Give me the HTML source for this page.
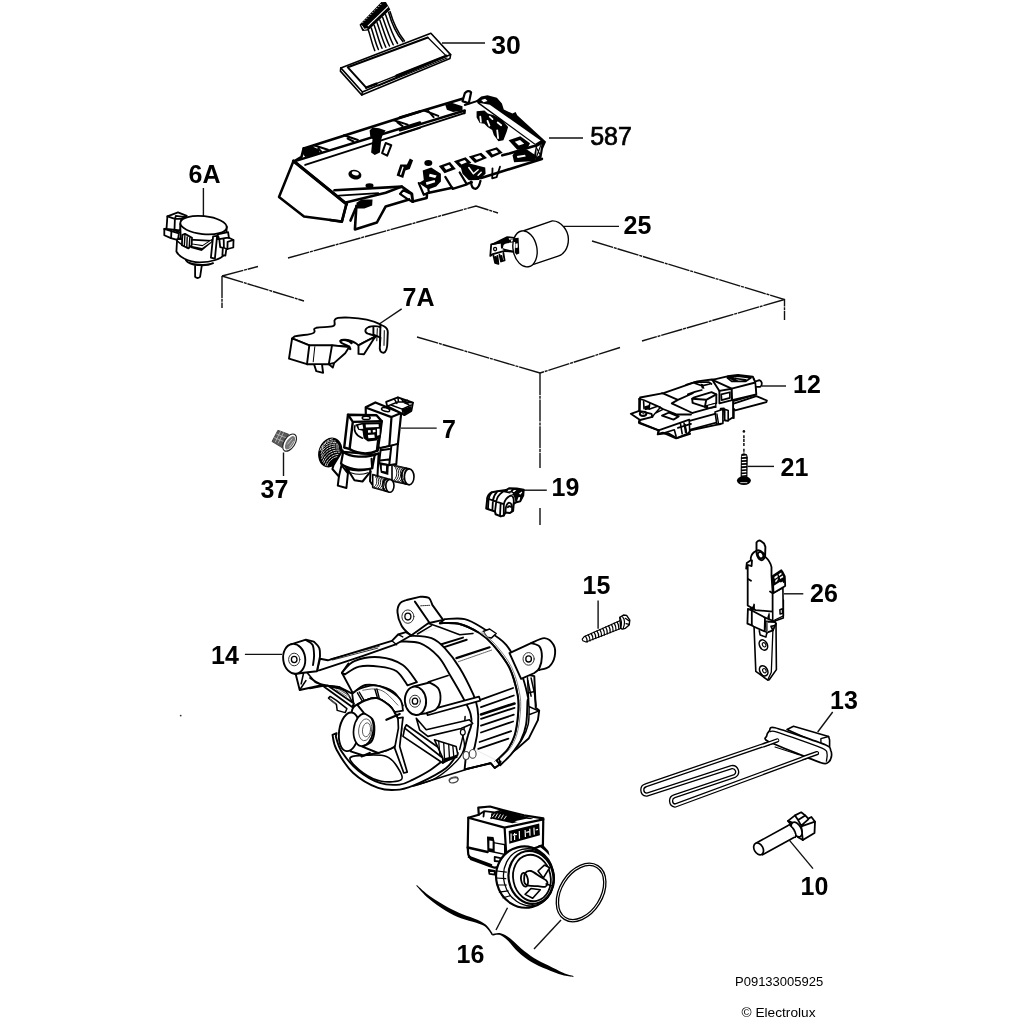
<!DOCTYPE html>
<html>
<head>
<meta charset="utf-8">
<title>Exploded view</title>
<style>
html,body{margin:0;padding:0;background:#fff;}
body{width:1024px;height:1024px;overflow:hidden;font-family:"Liberation Sans",sans-serif;}
svg{display:block;position:absolute;left:0;top:0;}
svg text{font-family:"Liberation Sans",sans-serif;fill:#000;}
.lb{font-size:25px;font-weight:bold;}
.lr{font-size:25px;font-weight:normal;stroke:#000;stroke-width:0.7px;}
.ft{font-size:13px;}
.ld{stroke:#111;stroke-width:1.4;fill:none;}
.ds{stroke:#111;stroke-width:1.4;fill:none;stroke-dasharray:22 0.8 3 0.8;}
.p{stroke:#000;stroke-width:1.6;fill:#fff;stroke-linejoin:round;stroke-linecap:round;}
.n{stroke:#000;stroke-width:1.6;fill:none;stroke-linejoin:round;stroke-linecap:round;}
.t{stroke:#000;stroke-width:1.1;fill:none;stroke-linejoin:round;stroke-linecap:round;}
.k{stroke:#000;stroke-width:2.2;fill:none;stroke-linejoin:round;stroke-linecap:round;}
.b{fill:#000;stroke:none;}
#p6a .p{stroke-width:1.8;}
</style>
</head>
<body>
<svg width="1024" height="1024" viewBox="0 0 1024 1024">
<rect x="0" y="0" width="1024" height="1024" fill="#fff"/>

<!-- ===== dashed assembly box ===== -->
<g id="box" class="ds">
<path d="M222,276 L258,266.5 M288,258 L476,206 L498,213"/>
<path d="M592,241 L784.500,299.500 L784.500,320"/>
<path d="M784.500,299.500 L642,341 M620,347.500 L540,373"/>
<path d="M222,276 L304,301 M417,337 L540,373"/>
<path d="M222,276 L222,308"/>
<path d="M540,373 L540,468 M540,508 L540,525"/>
</g>

<!-- ===== leaders ===== -->
<g id="leaders" class="ld">
<path d="M442,43 L485,43"/>
<path d="M549,138 L583,138"/>
<path d="M564,226.400 L619,226.400"/>
<path d="M203.400,188 L203.400,216"/>
<path d="M401.700,308.800 L380,323.500"/>
<path d="M401,428.100 L436.700,428.100"/>
<path d="M283.500,452.500 L283.500,476"/>
<path d="M523,490.200 L546.800,490.200"/>
<path d="M762,386 L786,386"/>
<path d="M747.600,466.400 L774,466.400"/>
<path d="M784,593.800 L803.300,593.800"/>
<path d="M598.100,600.600 L598.100,628.700"/>
<path d="M244.900,654.400 L282,654.400"/>
<path d="M832.700,712 L817.700,732"/>
<path d="M789.500,840.400 L813,868.600"/>
<path d="M507.500,907.700 L496,930"/>
<path d="M561,920 L534,949"/>
</g>


<!-- ===== part 10 sensor ===== -->
<g id="p10">
<path class="p" style="stroke-width:1.8" d="M788.0,820.9L795.0,815.4L801.2,812.3L805.2,815.4L808.3,818.6L811.4,817.0L815.0,821.7L814.5,832.9L802.8,840.1L798.1,837.3L793.4,827.9Z"/>
<path class="n" style="stroke-width:1.8" d="M795.0,815.4L798.1,820.1L805.2,815.4M798.1,820.1L801.2,825.6L808.3,819.3M801.2,825.6L802.8,840.1M802.0,826.1L815.0,821.7M788.0,820.9L793.4,823.2"/>
<ellipse class="p" style="stroke-width:1.8" cx="796.6" cy="829.5" rx="4.6" ry="8" transform="rotate(-28 796.6 829.5)"/>
<path class="p" style="stroke-width:1.7" d="M756.7,842.8L789.5,824.8L795.3,836.8L762.5,854.8Z"/>
<path d="M789.5,825.4L795.0,836.4" stroke="#fff" stroke-width="2.2" fill="none"/>
<ellipse class="p" style="stroke-width:1.7" cx="758.6" cy="848.9" rx="4.4" ry="6.4" transform="rotate(-28 758.6 848.9)"/>
<path class="n" style="stroke-width:1.6" d="M789.5,824.8C790.2,825.5 792.4,827.2 793.4,828.7C794.5,830.3 795.5,832.8 795.8,834.2C796.1,835.6 795.4,836.8 795.3,837.3"/>
</g>

<!-- ===== part 12 door lock ===== -->
<g id="p12">
<path class="p" style="stroke-width:1.8" d="M729.9,404.9L756.3,396.1L766.9,400.5L766.4,402.1L735.2,410.4Z"/>
<path class="p" style="stroke-width:1.6" d="M728.2,406.7L733.9,409.3L733.9,418.3L729.1,416.2Z"/>
<path class="p" style="stroke-width:1.9" d="M640.1,397.5L663.5,393.1L697.2,381.4L711.9,379.5L726.5,381.4L735.3,376.0L752.9,377.1L755.1,382.1L755.8,394.6L733.1,401.2L733.1,409.9L733.1,417.3L728.3,420.2L725.1,420.5L723.9,408.5L720.7,408.8L720.7,424.0L716.3,424.9L690.6,430.2L688.4,433.4L676.7,438.1L667.9,433.1L657.7,434.3L658.9,430.4L638.9,422.4L639.4,419.9Z"/>
<path class="p" style="stroke-width:1.9" d="M630.8,413.8L639.2,410.8L651.5,413.8L652.4,416.9L640.1,420.0Z"/>
<ellipse cx="643.1" cy="413.8" rx="3.3" ry="2.1" fill="#fff" stroke="#000" stroke-width="2"/>
<ellipse cx="643.4" cy="413.8" rx="1.2" ry="0.8" fill="#333" stroke="none"/>
<path class="n" style="stroke-width:1.9" d="M640.1,420.0L639.2,423.1L658.5,430.3L658.1,433.8M639.2,398.9L639.2,410.3"/>
<path class="n" style="stroke-width:1.8" d="M639.2,398.9L643.6,400.0L660.3,407.4L662.9,409.0L677.0,414.5L691.0,414.5M662.0,393.2L664.7,394.1L677.9,399.9L671.7,403.4L692.4,413.0M677.9,399.9L692.8,393.2"/>
<path class="n" style="stroke-width:1.6" d="M643.6,401.5L644.0,408.6M649.7,403.9L649.0,409.2L656.8,406.5"/>
<path class="b" d="M644.0,406.4L649.0,405.0L649.6,409.2L644.9,410.3Z"/>
<path class="n" style="stroke-width:1.9" d="M662.0,415.6L669.1,412.5L678.7,416.5L673.5,419.6Z"/>
<path class="n" style="stroke-width:1.5" d="M652.4,416.9L655.0,413.4L662.9,409.4M660.3,407.4L655.0,413.4"/>
<path class="n" style="stroke-width:1.8" d="M658.5,430.3L689.3,419.7M658.1,433.8L662.9,432.7L676.1,438.4L690.2,433.8M677.9,427.9L691.0,423.9"/>
<path class="n" style="stroke-width:1.6" d="M680.5,423.9L682.2,433.8M684.0,423.1L686.6,432.9M689.3,419.7L689.7,432.0M664.7,432.7L674.3,429.7L676.1,436.2"/>
<path class="b" d="M683.6,424.4L685.8,423.8L687.1,432.6L684.9,433.2Z"/>
<path class="n" style="stroke-width:1.8" d="M692.6,412.8L715.0,406.7M689.5,420.9L715.9,413.7M690.4,429.5L722.9,420.9"/>
<path class="p" style="stroke-width:1.6" d="M715.0,411.9L716.8,424.2L722.9,423.4L722.9,409.3Z"/>
<path class="n" style="stroke-width:1.4" d="M716.9,413.9L718.5,423.5"/>
<path class="p" style="stroke-width:1.6" d="M724.7,409.3L724.7,420.0L728.2,420.9L728.2,410.4Z"/>
<path class="p" style="stroke-width:1.9" d="M694.3,397.4L711.5,392.2L716.3,394.4L716.3,403.3L704.9,406.8L692.6,402.8L692.2,398.8Z"/>
<path class="n" style="stroke-width:1.9" d="M692.2,398.8L706.2,399.8L716.3,394.4M706.2,399.8L704.9,406.8"/>
<path class="b" d="M704.9,405.4L716.3,402.5L716.6,407.7L705.8,409.3Z"/>
<path fill="#fff" stroke="none" d="M708.0,405.8L715.0,404.0L715.2,405.6L708.4,407.4Z"/>
<path class="n" style="stroke-width:1.7" d="M686.0,384.7L694.8,382.1L708.9,382.1L711.5,384.0M694.8,383.1L701.8,385.8L709.7,384.0M687.8,394.4L694.8,391.9L701.8,390.0"/>
<path class="b" d="M700.5,383.6L703.1,384.3L704.5,388.7L701.8,388.4Z"/>
<path class="p" style="stroke-width:1.9" d="M719.4,390.9L731.7,388.7L732.1,400.1L719.4,403.3Z"/>
<path class="n" style="stroke-width:1.7" d="M721.2,394.4L729.9,392.2L729.9,397.9L721.6,400.1Z"/>
<path class="p" style="stroke-width:1.9" d="M712.4,379.9L727.3,376.3L737.9,375.0L752.8,376.8L755.4,382.5L756.3,394.4L732.1,400.1L731.7,388.7Z"/>
<path class="n" style="stroke-width:1.9" d="M731.7,388.7L755.4,382.5M712.4,379.9L719.4,391.0"/>
<path class="n" style="stroke-width:1.7" d="M727.3,377.8L737.9,376.1L751.0,377.8L745.8,381.4L731.7,381.4ZM735.2,378.5L745.8,379.9"/>
<path class="b" d="M726.0,376.8L731.7,375.9L738.7,381.2L735.2,382.1Z"/>
<path class="p" style="stroke-width:1.8" d="M756.3,381.2C756.9,381.0 758.9,380.0 759.8,380.3C760.7,380.6 761.6,381.9 761.8,382.9C761.9,384.0 761.5,385.8 760.7,386.5C759.9,387.1 757.4,386.8 756.8,386.9"/>
</g>

<!-- ===== part 13 heater ===== -->
<g id="p13">
<path class="p" style="stroke-width:1.6" d="M787.0,729.5L793.5,726.2L828.6,736.5L829.6,740.0L829.6,747.0L820.9,744.8Z"/>
<path class="n" style="stroke-width:1.4" d="M828.6,736.5L820.9,738.7L820.9,744.8"/>
<path d="M780.4,739.3 L645.9,785.3 A4.8,4.8 0 0 0 646.5,794.7 L731.6,767.1 A4.8,4.8 0 0 1 734.7,776 L674.4,796.3 A4.8,4.8 0 0 0 675.1,805.6 L818.7,752.5" fill="none" stroke="#000" stroke-width="4.3" stroke-linecap="round" stroke-linejoin="round"/>
<path d="M780.4,739.3 L645.9,785.3 A4.8,4.8 0 0 0 646.5,794.7 L731.6,767.1 A4.8,4.8 0 0 1 734.7,776 L674.4,796.3 A4.8,4.8 0 0 0 675.1,805.6 L818.7,752.5" fill="none" stroke="#fff" stroke-width="1.7" stroke-linecap="round" stroke-linejoin="round"/>
<path class="p" style="stroke-width:1.7" d="M766.6,736.1C766.8,734.8 768.5,731.6 769.5,730.6C770.5,729.6 768.4,726.1 775.0,727.8C781.5,729.4 818.8,742.2 825.3,744.8C831.8,747.4 830.0,748.9 830.7,750.3C831.5,751.7 831.6,755.5 831.4,756.8C831.1,758.2 829.8,761.2 828.6,761.9C827.3,762.6 827.9,765.1 820.9,762.8C813.9,760.4 774.7,744.6 768.4,741.5C762.1,738.4 766.5,737.3 766.6,736.1Z"/>
<path class="n" style="stroke-width:1.3" d="M770.1,731.7C771.1,731.7 770.2,729.9 777.1,732.1C784.1,734.3 815.3,745.2 822.0,748.1C828.6,751.0 826.4,751.8 827.0,753.6C827.6,755.3 826.5,760.2 826.4,761.2"/>
<path d="M777.1,740.4L764.0,745.3" fill="none" stroke="#000" stroke-width="4.3" stroke-linecap="round"/>
<path d="M778.2,740.0L761.8,745.9" fill="none" stroke="#fff" stroke-width="1.7" stroke-linecap="butt"/>
<path d="M817.0,753.1L803.4,757.9" fill="none" stroke="#000" stroke-width="4.3" stroke-linecap="round"/>
<path d="M817.8,752.7L801.2,758.8" fill="none" stroke="#fff" stroke-width="1.7" stroke-linecap="butt"/>
<path class="n" style="stroke-width:1.1" d="M775.0,747.0L799.0,754.7"/>
</g>

<!-- ===== part 14 motor ===== -->
<g id="p14">
<path class="p" style="stroke-width:1.9" d="M522.0,673.7L534.3,676.1L535.7,707.8L539.2,710.6L537.9,720.2L528.9,738.2L516.6,749.1L503.2,758.7L500.2,764.2L494.7,768.0L490.9,763.3L464.6,769.4L467.3,742.0L494.7,701.0Z"/>
<path class="n" style="stroke-width:1.5" d="M527.5,677.8L528.9,706.5L538.4,710.9M528.9,692.8L534.6,691.4M528.9,714.7L537.9,711.4M529.1,706.5C529.0,709.4 529.4,718.8 528.2,724.3C527.0,729.7 524.6,735.0 522.0,739.3C519.4,743.6 514.0,748.4 512.5,750.2"/>
<path class="p" style="stroke-width:1.9" d="M444.8,619.1C448.1,619.1 458.3,617.5 464.7,619.1C471.1,620.6 476.0,623.9 483.0,628.2C489.9,632.5 499.8,637.3 506.2,644.8C512.6,652.3 517.5,664.4 521.1,673.0C524.7,681.6 526.7,691.6 527.8,696.2C528.8,700.9 527.8,696.3 527.5,701.0C527.2,705.7 527.3,717.6 526.1,724.3C525.0,730.9 523.2,735.6 520.7,740.7C518.1,745.7 514.5,750.2 511.1,754.3C507.7,758.4 502.0,763.4 500.2,765.3L496.6,760.4C498.4,758.6 504.6,753.5 507.6,749.4C510.5,745.3 512.7,741.2 514.4,735.8C516.1,730.3 517.2,723.2 517.8,716.6C518.4,710.0 519.2,704.3 517.8,696.2C516.4,688.1 513.7,676.6 509.5,668.0C505.4,659.4 497.9,650.6 492.9,644.8C487.9,639.0 485.2,636.6 479.6,633.2C474.1,629.7 466.4,625.7 459.7,624.0C453.1,622.4 443.1,623.3 439.8,623.2Z"/>
<path class="n" style="stroke-width:0.9;stroke:#777" d="M477.4,634.4C479.7,636.3 485.7,640.2 490.7,646.0C495.7,651.8 503.2,660.6 507.3,669.2C511.5,677.8 514.2,689.3 515.6,697.4C517.0,705.5 516.2,711.2 515.6,717.8C515.0,724.4 513.9,731.5 512.2,737.0C510.5,742.4 508.3,746.5 505.4,750.6C502.4,754.7 496.2,759.8 494.4,761.6"/>
<path class="p" style="stroke-width:1.5" d="M483.0,631.5L489.6,629.0L496.2,633.5L491.3,638.1L487.1,637.3Z"/>
<path class="p" style="stroke-width:1.9" d="M531.1,643.1C533.3,642.3 540.6,637.9 544.4,638.1C548.1,638.4 551.8,641.7 553.5,644.8C555.2,647.8 555.4,652.8 554.7,656.4C554.0,660.0 551.9,664.1 549.4,666.4C546.8,668.6 541.1,669.4 539.4,670.0539.4,670.0L534.4,673.0L521.1,678.8L509.5,653.1L531.1,643.1Z"/>
<path class="p" style="stroke-width:1.9" d="M521.1,678.8L509.5,653.1L531.1,643.1L531.1,643.1C532.5,643.7 537.6,644.2 539.4,646.4C541.2,648.7 541.9,652.8 541.9,656.4C541.9,660.0 540.6,665.3 539.4,668.0C538.2,670.8 535.3,672.2 534.4,673.0Z"/>
<ellipse class="n" style="stroke-width:1;stroke:#333" cx="528.6" cy="658.9" rx="5.6" ry="6.3" transform="rotate(0 528.6 658.9)"/>
<ellipse class="n" style="stroke-width:1.3" cx="528.6" cy="658.9" rx="2.8" ry="3.1" transform="rotate(0 528.6 658.9)"/>
<path class="n" style="stroke-width:1.5" d="M531.1,678.0L534.4,692.9L536.1,706.2M527.8,680.5L531.1,696.2"/>
<path class="p" style="stroke-width:0.1" d="M417.4,634.0L439.8,626.9L459.7,634.5L483.0,631.5L492.9,644.8L509.5,668.0L517.8,696.2L517.8,716.6L514.4,735.8L507.6,749.4L496.6,760.4L474.7,749.4L478.1,724.8L477.5,708.4L473.4,694.7L465.1,676.9L454.2,657.8Z"/>
<path class="n" style="stroke-width:2" d="M439.8,644.8L463.0,637.6M442.8,647.6L466.7,639.8"/>
<path class="n" style="stroke-width:2.2" d="M456.4,658.1L489.6,647.3"/>
<path class="n" style="stroke-width:0.9;stroke:#555;stroke-dasharray:1.2 0.8" d="M458.4,661.7L491.6,650.1"/>
<path class="n" style="stroke-width:1.5" d="M428.2,623.2L439.8,627.2L459.7,634.8L473.0,633.5M431.5,625.7L417.4,634.0"/>
<path class="n" style="stroke-width:1.8" d="M481.0,699.6L513.1,688.0M481.0,707.2L513.8,695.5M481.0,718.8L514.5,707.8M481.0,725.6L513.8,714.7M481.0,732.5L513.1,721.5M479.6,742.0L511.1,731.1M478.3,748.9L508.4,738.6"/>
<path class="n" style="stroke-width:2.6" d="M481.0,714.4L514.5,703.5"/>
<path class="n" style="stroke-width:1.9" d="M439.8,623.2C443.1,623.3 453.1,622.4 459.7,624.0C466.4,625.7 474.1,629.7 479.6,633.2C485.2,636.6 487.9,639.0 492.9,644.8C497.9,650.6 505.4,659.4 509.5,668.0C513.7,676.6 516.4,688.1 517.8,696.2C519.2,704.3 518.4,710.0 517.8,716.6C517.2,723.2 516.1,730.3 514.4,735.8C512.7,741.2 510.5,745.3 507.6,749.4C504.6,753.5 498.4,758.6 496.6,760.4"/>
<path class="n" style="stroke-width:0.9;stroke:#777" d="M481.8,632.6C484.1,634.5 490.1,638.4 495.1,644.2C500.1,650.0 507.6,658.8 511.7,667.4C515.9,676.0 518.6,687.5 520.0,695.6C521.4,703.7 520.6,709.4 520.0,716.0C519.4,722.6 518.3,729.7 516.6,735.2C514.9,740.6 512.7,744.7 509.8,748.8C506.8,752.9 500.6,758.0 498.8,759.8"/>
<path class="n" style="stroke-width:1.6" d="M464.6,769.4L490.9,763.3L494.7,768.0L500.2,764.2L499.1,758.7"/>
<ellipse class="b" style="stroke-width:1.9" cx="500.2" cy="761.8" rx="1.4" ry="1.2" transform="rotate(0 500.2 761.8)"/>
<path class="p" style="stroke-width:1.9" d="M400.0,636.1C401.9,636.1 406.3,635.3 411.6,635.7C416.8,636.0 426.0,636.1 431.5,638.1C437.0,640.2 440.1,643.1 444.8,648.1C449.5,653.1 455.0,660.3 459.7,668.0C464.5,675.8 470.4,688.0 473.4,694.7C476.3,701.4 476.7,703.4 477.5,708.4C478.3,713.4 478.6,718.4 478.1,724.8C477.7,731.2 476.0,741.5 474.7,746.7C473.5,751.9 471.3,754.7 470.6,756.3L463.8,752.2C464.5,749.4 466.6,740.3 467.9,735.8C469.1,731.2 470.8,728.5 471.3,724.8C471.8,721.2 471.6,717.7 470.6,713.9C469.6,710.0 468.6,708.1 465.1,701.6C461.7,695.0 454.3,682.2 449.8,674.7C445.3,667.1 443.1,661.7 438.1,656.4C433.2,651.1 426.4,645.6 419.9,643.1C413.4,640.6 402.6,641.7 399.1,641.5Z"/>
<path class="n" style="stroke-width:1.5" d="M465.1,716.6C464.9,719.3 464.4,727.6 463.5,733.0C462.6,738.5 460.3,746.7 459.7,749.4"/>
<path class="p" style="stroke-width:1.9" d="M410.8,635.7C409.2,634.0 403.8,629.6 401.6,625.7C399.4,621.8 397.7,616.1 397.5,612.4C397.2,608.7 398.4,605.4 400.0,603.3C401.5,601.2 405.5,600.5 406.6,600.0L420.7,596.6C422.1,596.9 427.1,596.6 429.0,598.0C430.9,599.4 431.8,603.8 432.3,604.9L443.1,619.9L431.5,622.5L428.2,623.2Z"/>
<path class="n" style="stroke-width:1.9" d="M414.9,601.6L429.8,623.2"/>
<path class="n" style="stroke-width:0.8;stroke-dasharray:1 1" d="M420.7,605.8L429.8,605.3"/>
<ellipse class="n" style="stroke-width:1;stroke:#333" cx="407.9" cy="616.6" rx="6.0" ry="6.7" transform="rotate(0 407.9 616.6)"/>
<ellipse class="n" style="stroke-width:1.3" cx="407.9" cy="616.6" rx="3.0" ry="3.4" transform="rotate(0 407.9 616.6)"/>
<path class="p" style="stroke-width:1.9" d="M320.0,658.8L327.8,660.3L391.9,640.8L398.1,634.5L405.9,632.2L411.4,635.3L395.0,644.7L363.8,655.6L316.9,671.2Z"/>
<path class="n" style="stroke-width:0.8" d="M330.9,658.8L379.4,646.2M332.5,660.0L377.8,648.1"/>
<path class="n" style="stroke-width:1.4" d="M391.9,640.8L396.6,644.7M398.1,634.5L402.8,636.9"/>
<path fill="#fff" stroke="none" d="M295.8,674.4L299.7,690.0L321.6,685.3L338.8,686.9L351.2,693.1L352.8,693.1L341.9,672.8L312.2,671.2L305.9,671.2Z"/>
<path class="n" style="stroke-width:1.9" d="M295.8,674.4L299.7,690.0L321.6,685.3L338.8,686.9L351.2,693.1M352.8,693.1L341.9,672.8L348.6,663.4"/>
<path class="n" style="stroke-width:1.6" d="M303.6,672.8L301.2,683.8M305.9,671.2L315.3,682.2L324.7,686.1L338.8,686.9M299.7,690.0L305.9,680.6"/>
<path class="p" style="stroke-width:1.9" d="M290.3,644.7L305.9,639.7L313.8,641.6L313.8,641.6C314.7,642.6 318.2,645.3 319.2,647.8C320.3,650.3 319.9,655.0 320.0,656.4L316.9,671.2L303.6,672.8L295.0,674.1Z"/>
<path class="n" style="stroke-width:1.9" d="M305.9,640.0C307.0,640.8 311.1,642.1 312.5,644.7C313.9,647.3 314.0,652.2 314.1,655.6C314.1,659.0 313.2,663.4 313.0,665.0"/>
<ellipse class="p" style="stroke-width:1.9" cx="294.2" cy="658.8" rx="11.0" ry="15.0" transform="rotate(-8 294.2 658.8)"/>
<ellipse class="n" style="stroke-width:1;stroke:#333" cx="294.2" cy="659.5" rx="5.6" ry="6.3" transform="rotate(0 294.2 659.5)"/>
<ellipse class="n" style="stroke-width:1.3" cx="294.2" cy="659.5" rx="2.8" ry="3.1" transform="rotate(0 294.2 659.5)"/>
<path class="p" style="stroke-width:1.9" d="M332.5,734.8C333.1,737.3 333.1,743.4 336.6,749.7C340.1,756.1 346.3,766.6 353.2,773.0C360.1,779.3 370.4,785.1 378.1,787.9C385.8,790.7 392.8,790.4 399.7,789.6C406.6,788.7 411.9,786.5 419.6,782.9C427.3,779.3 439.8,773.0 446.2,768.0C452.5,763.0 455.8,755.5 457.8,753.0L446.2,758.0C443.4,760.1 435.1,766.9 429.6,770.5C424.0,774.1 417.9,777.2 413.0,779.6C408.0,782.0 405.2,784.0 399.7,784.6C394.1,785.1 386.7,785.3 379.8,782.9C372.8,780.6 364.5,775.7 358.2,770.5C351.8,765.2 345.3,757.1 341.6,751.4C337.8,745.7 336.7,738.9 335.8,736.4L336.6,733.1Z"/>
<path class="p" style="stroke-width:1.6" d="M349.9,758.9C349.6,755.9 355.4,755.9 361.5,755.5C367.6,755.1 380.3,754.3 386.4,756.4C392.5,758.4 395.5,764.1 398.0,768.0C400.5,771.9 404.1,777.4 401.3,779.6C398.6,781.8 387.8,782.4 381.4,781.3C375.1,780.2 368.4,776.7 363.2,773.0C357.9,769.2 350.2,761.8 349.9,758.9Z"/>
<path class="n" style="stroke-width:1.6" d="M417.9,784.6L466.1,769.6L490.0,763.0"/>
<path class="n" style="stroke-width:1.4" d="M461.1,729.8C461.7,732.6 465.0,741.4 464.4,746.4C463.9,751.4 462.5,754.4 457.8,759.7C453.1,764.9 443.7,773.5 436.2,777.9C428.7,782.4 416.8,784.9 413.0,786.2"/>
<path class="p" style="stroke-width:1.9" d="M341.9,672.8C344.0,670.9 348.1,663.7 354.4,661.1C360.6,658.5 371.3,656.5 379.4,657.2C387.4,657.8 396.6,660.8 402.8,665.0C409.1,669.2 414.5,679.3 416.9,682.2L407.5,685.3C405.7,683.0 401.2,674.4 396.6,671.2C391.9,668.1 385.6,667.3 379.4,666.6C373.1,665.8 364.8,665.3 359.1,666.6C353.3,667.9 347.3,673.1 345.0,674.4Z"/>
<path class="n" style="stroke-width:1.9" d="M352.8,693.1C354.9,691.8 360.4,686.0 365.3,685.0C370.3,684.0 377.6,685.5 382.5,686.9C387.4,688.2 391.6,690.0 395.0,693.1C398.4,696.2 401.5,703.5 402.8,705.6"/>
<path class="n" style="stroke-width:1.5" d="M357.5,697.8C359.3,696.6 364.3,691.6 368.4,690.8C372.6,690.0 378.6,692.0 382.5,693.1C386.4,694.3 389.5,695.7 391.9,697.8C394.2,699.9 395.8,704.3 396.6,705.6"/>
<path class="p" style="stroke-width:1.8" d="M352.2,693.8C353.4,693.0 355.7,690.4 359.2,689.0C362.7,687.6 368.9,685.4 373.3,685.3C377.7,685.2 381.1,686.2 385.6,688.5C390.0,690.8 397.1,695.4 400.0,699.1C402.9,702.8 402.5,708.8 403.0,710.7L394.4,712.2C393.5,711.0 392.0,707.6 389.1,705.2C386.1,702.9 380.9,698.8 376.8,698.1C372.7,697.3 368.3,699.3 364.5,700.8C360.7,702.2 355.6,705.9 353.9,706.9Z"/>
<path class="n" style="stroke-width:0.9;stroke:#555" d="M362.7,690.3C364.7,690.1 371.1,688.5 374.9,689.0C378.8,689.4 381.8,690.1 385.6,692.8C389.4,695.5 395.8,703.2 397.9,705.2"/>
<path class="n" style="stroke-width:1.4" d="M357.4,692.8L362.7,701.9M359.2,692.0L364.5,700.9M374.9,689.3L377.6,698.3M376.9,689.0L379.4,698.6"/>
<path class="n" style="stroke-width:1.5" d="M332.0,687.1C334.2,687.8 341.8,688.7 345.2,691.1C348.5,693.5 351.0,699.9 352.2,701.6"/>
<path class="n" style="stroke-width:0.8;stroke:#555" d="M336.4,689.8L346.9,696.4M339.0,689.5L348.7,695.5M341.6,690.4L350.0,696.4"/>
<path class="p" style="stroke-width:1.8" d="M324.1,686.7L327.6,685.6L353.9,703.4L352.2,707.1Z"/>
<path class="p" style="stroke-width:1.5" d="M328.5,698.1L336.4,704.3L337.2,710.4L345.2,712.6L346.9,708.7L336.4,700.3L330.2,696.4Z"/>
<path class="n" style="stroke-width:0.9;stroke:#666" d="M329.8,699.0L335.5,703.0M330.7,700.8L335.0,703.8"/>
<path class="n" style="stroke-width:1.7" d="M310.0,677.9C311.8,678.9 315.6,682.5 320.5,684.1C325.5,685.7 336.7,687.0 339.9,687.6M310.0,688.5L323.2,685.8"/>
<path class="p" style="stroke-width:1.9" d="M351.5,713.2C351.9,712.1 351.7,709.0 353.9,706.9C356.0,704.8 360.7,702.2 364.5,700.8C368.3,699.3 372.7,697.3 376.8,698.1C380.9,698.8 386.1,702.9 389.1,705.2C392.0,707.6 392.3,708.4 394.4,712.2C396.4,716.0 401.1,722.6 401.3,728.1C401.5,733.7 399.4,741.4 395.5,745.6C391.7,749.7 381.0,751.8 378.1,753.0L363.2,755.5L350.7,751.4Z"/>
<ellipse class="p" style="stroke-width:1.9" cx="349.1" cy="731.8" rx="10.0" ry="19.5" transform="rotate(8 349.1 731.8)"/>
<ellipse class="p" style="stroke-width:1.7" cx="363.5" cy="729.8" rx="9.8" ry="16.5" transform="rotate(8 363.5 729.8)"/>
<ellipse class="n" style="stroke-width:0.9;stroke:#555" cx="365.2" cy="729.8" rx="6.5" ry="11.0" transform="rotate(8 365.2 729.8)"/>
<ellipse class="n" style="stroke-width:0.9;stroke:#555" cx="366.5" cy="729.8" rx="4.0" ry="7.0" transform="rotate(8 366.5 729.8)"/>
<path class="p" style="stroke-width:1.9" d="M364.0,713.2C365.4,714.2 370.5,716.2 372.3,719.0C374.0,721.8 374.6,726.1 374.4,729.8C374.3,733.5 373.5,738.6 371.5,741.4C369.4,744.2 363.9,745.8 362.3,746.7L378.1,753.0C381.0,751.8 391.7,749.7 395.5,745.6C399.4,741.4 401.5,733.7 401.3,728.1C401.1,722.6 396.4,716.0 394.4,712.2C392.3,708.4 392.0,707.6 389.1,705.2C386.1,702.9 380.9,698.8 376.8,698.1C372.7,697.3 367.7,699.6 364.5,700.8C361.3,701.9 358.5,704.2 357.4,704.9Z"/>
<path class="n" style="stroke-width:2.2" d="M386.4,719.8L399.7,714.0M361.5,756.4L369.8,753.0"/>
<path class="p" style="stroke-width:1.7" d="M398.0,718.2L403.0,717.4L401.7,728.1L399.7,746.4L407.2,772.1L403.8,773.0L394.7,748.1L398.4,728.1Z"/>
<path class="p" style="stroke-width:1.7" d="M404.7,728.1L406.3,724.8L446.2,753.0L442.8,758.0L442.8,763.0L403.0,736.4Z"/>
<path class="n" style="stroke-width:1.7" d="M404.7,728.1L442.8,758.0"/>
<path class="p" style="stroke-width:1.6" d="M434.5,739.8L456.1,746.4L457.8,754.7L442.8,763.0L442.8,758.0Z"/>
<path class="n" style="stroke-width:1.3" d="M438.7,741.1L439.9,755.5M443.7,742.7L444.5,758.0M448.7,744.4L449.5,758.9M452.8,745.6L453.8,756.7"/>
<path class="b" d="M443.2,758.4L457.8,755.0L457.5,757.7L443.2,762.7Z"/>
<path class="p" style="stroke-width:1.6" d="M416.3,718.2L426.2,729.8L469.4,719.8L472.7,723.5L461.1,728.5L427.9,736.4L419.6,729.8Z"/>
<path class="p" style="stroke-width:1.7" d="M426.2,710.9L479.0,696.6L480.4,700.6L427.6,715.2Z"/>
<path class="p" style="stroke-width:1.9" d="M413.0,686.6L429.6,682.5L429.6,682.5C431.0,683.5 436.4,685.4 438.2,688.3C440.0,691.2 440.7,696.5 440.4,699.9C440.0,703.4 438.6,706.8 436.2,709.1C433.9,711.3 427.9,712.5 426.2,713.2L415.5,714.9 Z"/>
<ellipse class="p" style="stroke-width:1.9" cx="415.5" cy="700.8" rx="10.6" ry="14.2" transform="rotate(-5 415.5 700.8)"/>
<ellipse class="n" style="stroke-width:1;stroke:#333" cx="415.0" cy="701.2" rx="5.4" ry="6.0" transform="rotate(0 415.0 701.2)"/>
<ellipse class="n" style="stroke-width:1.3" cx="415.0" cy="701.2" rx="2.7" ry="3.0" transform="rotate(0 415.0 701.2)"/>
<path class="n" style="stroke-width:1.6" d="M428.2,682.1L448.1,675.5"/>
<ellipse class="p" style="stroke-width:1.2" cx="462.8" cy="732.3" rx="2.4" ry="2.8" transform="rotate(0 462.8 732.3)"/>
<ellipse class="p" style="stroke-width:1.1;stroke:#444" cx="472.7" cy="753.9" rx="3.4" ry="4.4" transform="rotate(0 472.7 753.9)"/>
<ellipse class="p" style="stroke-width:1.1;stroke:#444" cx="466.1" cy="755.5" rx="3.0" ry="4.0" transform="rotate(0 466.1 755.5)"/>
<ellipse class="p" style="stroke-width:1.1;stroke:#444" cx="453.6" cy="779.6" rx="4.6" ry="2.4" transform="rotate(-15 453.6 779.6)"/>
<ellipse class="p" style="stroke-width:1.1;stroke:#444" cx="453.7" cy="780.3" rx="4.4" ry="2.4" transform="rotate(-15 453.7 780.3)"/>
</g>

<!-- ===== part 15 bolt ===== -->
<g id="p15" class="n" style="stroke-width:1.2">
<path class="p" style="stroke-width:1.1" d="M582.2,639.2L584.4,636.4L621.0,620.2L622.6,627.7L586.0,642.1L582.9,640.8Z"/>
<path d="M585.4,636.1Q587.4,638.6,587.1,642.1" style="stroke-width:1.25"/>
<path d="M588.2,634.8Q590.2,637.3,590.0,640.9" style="stroke-width:1.25"/>
<path d="M591.1,633.5Q593.1,636.1,592.9,639.7" style="stroke-width:1.25"/>
<path d="M594.0,632.2Q596.0,634.9,595.8,638.5" style="stroke-width:1.25"/>
<path d="M596.9,630.9Q598.9,633.6,598.7,637.4" style="stroke-width:1.25"/>
<path d="M599.8,629.6Q601.8,632.4,601.6,636.2" style="stroke-width:1.25"/>
<path d="M602.7,628.3Q604.7,631.1,604.4,635.0" style="stroke-width:1.25"/>
<path d="M605.6,627.0Q607.6,629.9,607.3,633.8" style="stroke-width:1.25"/>
<path d="M608.5,625.7Q610.5,628.7,610.2,632.7" style="stroke-width:1.25"/>
<path d="M611.4,624.4Q613.4,627.4,613.1,631.5" style="stroke-width:1.25"/>
<path d="M614.2,623.1Q616.2,626.2,616.0,630.3" style="stroke-width:1.25"/>
<path d="M617.1,621.8Q619.1,624.9,618.9,629.1" style="stroke-width:1.25"/>
<path d="M620.1,620.5Q622.1,623.8,621.8,628.0" style="stroke-width:1.25"/>
<path class="p" style="stroke-width:1.4" d="M619.8,617.4L623.5,615.0L626.6,615.4L629.8,620.2L629.2,625.0L625.4,628.3L622.2,629.2L620.7,628.0Z"/>
<path d="M622.6,616.8Q626.0,620.5,623.2,628.6M619.8,617.4Q622.6,621.4,620.7,628.0M625.4,618.3L628.8,620.8M626.0,623.6L629.1,624.4" style="stroke-width:1.2"/>
</g>

<!-- ===== part 16 pump ===== -->
<g id="p16">
<path class="p" style="stroke-width:2.2" d="M468.3,817.7L478.8,814.7L478.3,807.7L490.0,806.5L502.9,810.1L523.9,815.3L543.3,818.3L542.9,845.2L526.3,851.1L506.4,856.9L505.2,866.3L494.7,867.7L490.0,866.3L471.2,859.3L468.3,854.6L467.7,847.5Z"/>
<path class="n" style="stroke-width:2.2" d="M468.3,817.7L504.6,827.6L543.3,819.4M504.6,827.6L506.4,856.9"/>
<path class="n" style="stroke-width:1.8" d="M478.8,814.7L484.1,811.2L494.7,812.4L502.9,810.1M484.1,811.2L483.5,816.5M494.7,812.4L491.1,818.3"/>
<path class="b" d="M491.1,813.6L505.2,810.3L525.1,816.5L533.3,818.8L512.2,823.2L491.1,818.5Z"/>
<path stroke="#fff" stroke-width="0.9" fill="none" d="M492.3,817.1L494.7,813.6M495.2,817.7L497.6,813.6M498.2,818.3L500.5,814.2M501.1,818.8L503.4,814.7M504.0,819.4L506.4,815.9"/>
<path fill="#fff" stroke="none" d="M514.6,821.2L526.3,818.8L532.1,819.4L519.3,822.7Z"/>
<path class="b" d="M508.7,831.1L539.2,823.5L539.9,835.2L509.3,843.8Z"/>
<path stroke="#fff" stroke-width="1.2" fill="none" d="M511.1,833.5L511.1,841.1M514.6,832.9L514.6,839.9M519.3,831.1L519.5,838.8M525.1,830.0L525.4,837.0M529.8,828.8L530.0,835.8M533.9,827.6L534.3,834.7M512.8,835.2L516.9,834.4M526.3,832.3L529.2,831.7M535.7,830.0L538.0,829.4"/>
<path class="b" d="M487.0,836.4L493.5,837.0L494.7,842.3L505.2,844.0L505.2,855.2L493.5,852.8L487.4,851.6Z"/>
<path fill="#fff" stroke="none" d="M494.7,843.4L504.0,845.2L504.0,853.4L494.7,851.6ZM489.4,840.5L492.6,841.0L492.6,848.7L489.4,848.2Z"/>
<path class="n" style="stroke-width:2.4" d="M467.7,847.5L487.6,852.0M468.9,856.9L491.1,865.1"/>
<path class="n" style="stroke-width:1.8" d="M494.7,856.9L500.5,858.1L500.5,861.6L494.7,861.0ZM488.8,869.8L494.7,871.0L494.7,874.7L489.4,873.9Z"/>
<ellipse class="p" style="stroke-width:2.2" cx="524.9" cy="877.1" rx="28.7" ry="30.7" transform="rotate(-14 524.9 877.1)"/>
<ellipse class="p" style="stroke-width:1.3" cx="528.9" cy="877.3" rx="25.2" ry="28.7" transform="rotate(-14 528.9 877.3)"/>
<ellipse class="p" style="stroke-width:2.2" cx="531.0" cy="877.4" rx="22.3" ry="26.7" transform="rotate(-12 531.0 877.4)"/>
<ellipse class="p" style="stroke-width:1.8" cx="531.9" cy="878.0" rx="18.7" ry="23.4" transform="rotate(-12 531.9 878.0)"/>
<path class="n" style="stroke-width:1.1" d="M497.0,871.0L506.4,872.1M496.4,878.0L505.8,878.6M497.0,885.0L506.4,885.0M499.3,892.1L508.1,890.9M502.9,897.9L510.5,895.6"/>
<path class="b" d="M538.0,845.2L542.7,844.6L548.5,851.1L549.7,855.7L545.0,851.1Z"/>
<path class="p" style="stroke-width:1.6" d="M538.0,871.0L544.4,865.1L549.7,867.7L543.3,878.0Z"/>
<path class="p" style="stroke-width:1.6" d="M525.1,894.4L531.0,888.5L540.3,889.7L532.7,898.2Z"/>
<path class="p" style="stroke-width:1.8" d="M525.1,873.3C526.2,871.4 528.4,870.4 531.0,871.0C533.5,871.6 537.8,875.3 540.3,876.8C542.9,878.4 545.0,879.2 546.2,880.3C547.4,881.5 547.6,882.8 547.4,883.9C547.2,884.9 546.6,886.4 545.0,886.8C543.5,887.2 540.7,886.4 538.0,886.2C535.3,886.0 530.9,886.2 528.6,885.6C526.4,885.0 525.1,884.7 524.5,882.7C523.9,880.6 524.0,875.3 525.1,873.3Z"/>
<ellipse class="n" style="stroke-width:1.8" cx="524.5" cy="879.8" rx="3.4" ry="7.0" transform="rotate(-10 524.5 879.8)"/>
<path class="n" style="stroke-width:1.6" d="M546.2,883.9L553.2,886.2"/>
</g>

<!-- ===== o-ring + brace ===== -->
<g id="p16b">
<ellipse cx="581.1" cy="892.5" rx="21.6" ry="31.7" transform="rotate(32 581.1 892.5)" fill="none" stroke="#000" stroke-width="1.3"/>
<ellipse cx="581.1" cy="892.5" rx="19.3" ry="29.4" transform="rotate(32 581.1 892.5)" fill="none" stroke="#000" stroke-width="1.3"/>
<path class="b" d="M416.3,885.7C418.4,887.8 423.8,894.4 428.7,898.6C433.6,902.8 440.3,907.4 445.7,910.7C451.0,914.0 455.8,916.2 460.9,918.2C466.0,920.2 472.2,921.4 476.2,922.7C480.1,924.1 482.4,924.7 484.7,926.3C487.1,927.9 489.0,931.0 490.1,932.4C491.3,933.9 491.3,934.7 491.6,935.1L492.9,934.4C492.6,933.9 492.5,933.1 491.3,931.5C490.2,929.9 488.3,926.7 486.0,924.7C483.6,922.8 481.2,921.5 477.3,919.7C473.4,918.0 467.4,916.4 462.5,914.3C457.6,912.3 453.0,910.2 447.7,907.3C442.3,904.3 435.4,900.3 430.3,896.6C425.2,892.9 419.1,887.0 416.9,885.0Z"/>
<path class="b" d="M492.3,935.5C493.6,935.4 497.5,934.1 500.1,935.0C502.8,935.9 504.9,937.9 508.0,940.7C511.0,943.6 514.3,948.4 518.2,952.0C522.1,955.5 526.6,959.1 531.4,961.9C536.1,964.8 541.7,967.1 546.8,969.2C552.0,971.4 557.9,973.7 562.3,975.0C566.7,976.3 571.5,976.6 573.3,976.9L573.5,976.0C571.8,975.5 567.3,974.5 563.1,972.7C558.9,971.0 553.4,968.1 548.5,965.6C543.6,963.1 538.4,960.7 533.9,957.9C529.3,955.0 525.2,951.8 521.2,948.5C517.2,945.2 513.4,940.8 510.0,938.3C506.6,935.7 503.6,934.0 500.6,933.3C497.7,932.5 493.6,933.9 492.2,934.0Z"/>
</g>

<!-- ===== part 19 clip ===== -->
<g id="p19" class="n" style="stroke-width:1.8">
<path class="p" style="stroke-width:2" d="M486.2,508.5L487.4,497.3Q489.1,493.2,492.1,492.2L497.3,491.2L506.1,490.0L509.0,488.3L516.7,488.5L523.7,489.7L523.2,495.6L520.2,501.4L515.5,502.6L513.7,503.8L513.1,510.8L509.6,513.1L505.5,512.6L503.8,515.5L500.8,516.4L495.6,514.3L495.0,511.5Z"/>
<path d="M491.8,492.4Q488.8,495.6,488.5,499.7L488.0,508.5M497.3,491.4Q493.5,495.6,492.9,500.8L492.4,509.9M487.4,498.5L496.2,501.7M495.0,511.5L496.2,501.7Q497.3,495.6,502.6,492.1M500.6,504.4L500.0,515.5M496.2,501.7L503.8,504.1L503.8,515.5"/>
<path d="M503.8,504.1Q505.5,497.3,510.8,495.6Q514.3,495.6,513.7,503.8M505.5,512.6Q505.5,503.8,509.0,502.6Q512.6,502.6,512.0,510.8M507.9,507.3Q509.0,505.5,510.5,506.7"/>
<path class="b" d="M497.3,491.2L506.1,490.0L509.0,488.3L516.7,488.5L523.7,489.7L523.2,495.6L520.3,501.4L515.5,502.6L514.6,497.9L513.1,495.0L508.5,493.3L502.6,492.1Z"/>
<path fill="#fff" stroke="none" d="M508.5,489.7L511.7,489.4L510.2,491.2L507.3,491.4ZM513.7,490.0L516.4,490.0L514.3,491.9L512.6,491.9ZM519.0,493.5L521.9,491.4L522.2,492.6L520.2,494.7ZM518.4,497.3L520.2,497.0L519.6,500.6L517.1,501.0ZM509.0,492.9L512.0,492.6L513.1,494.1L510.8,494.1Z"/>
</g>

<!-- ===== part 21 screw ===== -->
<g id="p21">
<circle cx="743.9" cy="431.4" r="1.3" fill="#111"/>
<path d="M743.9,435.3 L743.9,446 M743.9,448.800 L743.9,453.5" stroke="#111" stroke-width="1.5" stroke-dasharray="3 0.8" fill="none"/>
<path class="b" d="M741.4,453.9Q743.9,452.9,746.9,454.2L747.8,457.2L747.4,477.2L740.6,477.2L740.9,457.2Z"/>
<path d="M741.8,456.6L746.3,456.2" stroke="#fff" stroke-width="1.3" fill="none"/>
<path d="M741.8,459.7L746.3,459.3" stroke="#fff" stroke-width="1.3" fill="none"/>
<path d="M741.8,462.7L746.3,462.3" stroke="#fff" stroke-width="1.3" fill="none"/>
<path d="M741.8,465.7L746.3,465.3" stroke="#fff" stroke-width="1.3" fill="none"/>
<path d="M741.8,468.9L746.3,468.5" stroke="#fff" stroke-width="1.3" fill="none"/>
<path d="M741.8,471.9L746.3,471.5" stroke="#fff" stroke-width="1.3" fill="none"/>
<path d="M741.8,474.8L746.3,474.4" stroke="#fff" stroke-width="1.3" fill="none"/>
<path d="M741.8,477.7L746.3,477.3" stroke="#fff" stroke-width="1.3" fill="none"/>
<ellipse class="b" cx="743.9" cy="480.6" rx="7" ry="4.4"/>
<path d="M740.3,482.6L747.3,482.6" stroke="#ddd" stroke-width="0.9" fill="none"/>
</g>

<!-- ===== part 25 capacitor ===== -->
<g id="p25" class="n" style="stroke-width:1.5">
<path class="p" style="stroke-width:1.8" d="M490.3,255.9L491.2,244.4L500.5,242.7L507.3,237.1L518.6,238.3L519.1,253.0L516.3,254.4L512.7,251.5L503.9,251.0L501.0,251.8L492.9,254.1Z"/>
<path class="b" d="M491.7,243.7L506.4,236.6L508.5,237.8L509.3,239.8L514.2,238.8L518.6,237.8L519.3,253.5L516.1,254.7L514.7,252.0L515.2,242.2L509.3,242.7L504.9,245.2L503.4,248.6L501.0,248.6L500.7,243.2L492.7,245.0Z"/>
<path fill="#fff" stroke="none" d="M503.4,245.6Q503.9,243.7,508.3,243.2L508.5,245.6Q504.9,246.3,504.4,248.3L502.9,248.3Z"/>
<path fill="#fff" stroke="none" d="M509.8,243.7L513.7,242.7L513.9,247.6L510.1,248.6Z"/>
<path fill="#fff" stroke="none" d="M510.8,239.8L514.2,239.3L514.2,241.2L511.1,241.7Z"/>
<path style="stroke-width:1.5" d="M503.4,249.1L512.2,251.5"/>
<ellipse cx="495.1" cy="249.1" rx="1.5" ry="1.7" style="stroke-width:1.3"/>
<path class="p" style="stroke-width:1.8" d="M493.5,255.7L495.1,262.9L498.4,263.9L497.4,255.9M495.6,256.9L496.6,261.8"/>
<path class="p" style="stroke-width:1.8" d="M499.5,254.7L501.0,261.5L504.6,260.5L503.4,253.0M501.5,255.9L502.3,260.3"/>
<path class="p" style="stroke-width:1.35" d="M523.0,231.0L552.3,220.9C561.1,220.7,568.4,230.5,568.4,239.3C568.4,249.1,563.0,254.9,558.1,256.1L526.9,266.6Z"/>
<ellipse class="p" style="stroke-width:1.35" cx="525.0" cy="248.9" rx="11.9" ry="18.2" transform="rotate(-11 525.0 248.9)"/>
<path class="b" d="M513.7,238.3L518.6,237.8L519.3,253.5L516.3,254.7L514.7,252.2L515.2,242.2L513.7,241.7Z"/>
<path fill="#fff" stroke="none" d="M515.4,243.7L517.6,243.2L517.8,247.6L515.5,248.3Z"/>
</g>

<!-- ===== part 26 ===== -->
<g id="p26" class="n" style="stroke-width:1.6">
<path class="p" d="M754.0,625.5L755.8,671.4L767.8,680.1L769.2,679.8L776.4,669.6L776.0,623.3Z"/>
<path d="M772.9,630.3L771.3,672.2L767.8,679.8" style="stroke-width:1.3"/>
<ellipse cx="763.4" cy="645.0" rx="3.8" ry="5.4" transform="rotate(-28 763.4 645.0)" style="stroke-width:1.6"/>
<ellipse cx="764.1" cy="644.8" rx="1.6" ry="2.3" transform="rotate(-28 764.1 644.8)" style="stroke-width:1.1"/>
<ellipse cx="763.7" cy="670.8" rx="3.8" ry="5.4" transform="rotate(-28 763.7 670.8)" style="stroke-width:1.6"/>
<ellipse cx="764.4" cy="670.7" rx="1.6" ry="2.3" transform="rotate(-28 764.4 670.7)" style="stroke-width:1.1"/>
<path class="p" style="stroke-width:1.8" d="M756.5,550.8Q751.5,552.9,750.8,557.8L750.8,560.3L746.8,562.9L746.2,568.6L747.7,565.6L747.7,605.4L755.5,610.1L772.7,611.7L772.7,593.3L771.5,575.8L771.5,567.2Q770.4,561.3,765.3,556.8Z"/>
<path d="M748.1,565.0L751.6,566.1L752.0,560.3L750.8,560.3M748.1,578.9L751.0,580.8M770.0,591.4L772.7,593.3" style="stroke-width:1.8"/>
<path class="p" d="M772.7,593.3L782.9,587.9L783.3,617.9L772.7,621.8Z"/>
<path class="p" style="stroke-width:1.8" d="M772.7,575.9L781.3,570.3L782.9,572.6L784.8,576.5L785.2,585.9L773.5,593.1Z"/>
<path class="b" d="M772.7,575.9L781.3,570.3L782.9,572.6L784.8,576.5L785.1,582.0L782.9,583.2L779.8,582.0L773.5,585.9Z"/>
<path fill="#fff" stroke="none" d="M774.3,576.9L777.4,575.0L777.8,576.9L774.7,578.9ZM778.6,574.2L781.2,572.6L781.7,574.2L779.1,575.9ZM775.5,580.0L778.2,578.2L777.0,581.2L775.1,582.6ZM779.8,577.3L782.9,575.6L783.3,577.2L780.1,579.0ZM780.9,582.4L782.9,581.4L783.0,583.6L781.2,584.2Z"/>
<path class="p" style="stroke-width:1.9" d="M756.5,551.5L756.5,542.5Q758.7,539.4,761.2,541.2L764.1,543.6L765.4,546.8L765.1,556.4Q763.0,562.1,759.4,559.3Q756.5,556.6,756.5,551.5Z"/>
<ellipse cx="760.6" cy="555.1" rx="2.5" ry="3.3" transform="rotate(-25 760.6 555.1)" style="stroke-width:1.8"/>
<path d="M756.7,550.8Q759.4,548.8,764.9,554.7" style="stroke-width:1.9"/>
<path d="M779.9,609.7L782.4,608.8L782.6,613.2L780.1,614.1Z" style="stroke-width:1.5"/>
<path d="M783.5,600.0L783.5,615.8L774.7,620.0" style="stroke-width:1.3"/>
<path class="p" style="stroke-width:1.8" d="M747.9,608.8L751.8,610.5L765.0,617.6L774.7,621.5L776.0,623.6L772.9,630.3L766.8,632.7L764.6,631.5L753.6,626.5L751.8,625.3L747.4,623.7Z"/>
<path d="M751.8,610.5L751.8,625.3M765.0,617.6L764.6,631.5M766.3,621.5L766.8,632.7M766.3,621.5L774.7,622.0M771.1,626.4L774.7,625.5M771.1,626.4L772.9,630.3" style="stroke-width:1.8"/>
<path d="M767.1,622.4L767.3,631.6" stroke="#777" style="stroke-width:1.6"/>
<path class="b" d="M749.2,608.3L752.7,606.6L753.6,603.5L754.9,604.0L754.9,610.5L751.8,610.5ZM767.2,617.6L769.0,612.3L769.8,614.1L769.8,619.8Z"/>
<path class="p" d="M759.3,630.8L760.2,635.1L765.9,637.1L766.8,633.0"/>
</g>

<!-- ===== part 30 display ===== -->
<g id="p30">
<g class="t" style="stroke-width:1.5">
<path d="M368.500,30.500 C371,38 372,44 374.800,50.600"/>
<path d="M371.300,28 C374,36 375.500,43 378.400,49.500"/>
<path d="M374.200,25.300 C377,33 379,42 382,48.300"/>
<path d="M377,22.600 C380,31 382.500,40 385.800,47.200"/>
<path d="M379.800,20 C383,29 386,39 389.500,46"/>
<path d="M382.700,17.400 C386,27 389.500,37 393.200,44.800"/>
<path d="M385.600,14.800 C389,25 393,36 397.500,43.500"/>
<path d="M388.600,12.200 C391.500,23 396.500,34 403,41.700"/>
<path d="M390,11.500 C393,22 398,33 404.500,41"/>
</g>
<path class="b" d="M359.500,24.800 L381.400,1.900 L385.900,1.900 L390.300,9.500 L368.100,30.500 L362.400,31.100 Z"/>
<path d="M361.600,25.400 L364.200,29.300 L367.300,28.700" stroke="#fff" stroke-width="1" fill="none"/>
<path d="M367.800,26.200 L388,6.600" stroke="#fff" stroke-width="1.100" fill="none"/>
<path d="M362.500,22.800 L382.500,2.800" stroke="#fff" stroke-width="0.900" stroke-dasharray="1.300 1.500" fill="none"/>
<path class="p" d="M340.800,67.900 L430.900,33.300 L450.600,54.600 L450,58.400 L361.700,95 L340.400,71.100 Z"/>
<path class="n" d="M340.800,67.900 L362.400,92 L450.600,54.600 M362.400,92 L361.700,95"/>
<path class="k" d="M427.800,37.500 L347.800,67.300 L366.200,87.600" style="stroke-width:2"/>
<path class="n" d="M427.800,37.500 L446.200,55.900 L366.200,87.600" style="stroke-width:1.300"/>
<path class="k" d="M366.200,87.600 L376.500,83.800 M396.500,75.800 L446.200,55.900" style="stroke-width:2.600"/>
<path class="t" d="M378,86 L447,58"/>
</g>

<!-- ===== part 37 filter ===== -->
<g id="p37">
<path fill="#5a5a5a" stroke="#333" stroke-width="0.8" d="M272.0,441.5L277.9,430.3L288.6,434.2L282.0,447.6Z"/>
<path stroke="#bbb" stroke-width="0.8" fill="none" d="M274.2,437.6L284.9,442.0M276.2,433.9L286.7,438.1M278.1,443.4L283.5,432.5M275.2,442.2L280.6,431.2"/>
<ellipse cx="289.6" cy="442.6" rx="5.4" ry="9.6" fill="#fff" stroke="#222" stroke-width="1.2" transform="rotate(33 289.6 442.6)"/>
<ellipse cx="290" cy="442.8" rx="3.6" ry="7.6" fill="#777" stroke="none" transform="rotate(33 290 442.8)"/>
<path stroke="#ddd" stroke-width="0.7" fill="none" d="M287.4,444.4L292.3,438.6M289.3,447.3L293.7,441.0"/>
</g>

<!-- ===== part 587 housing ===== -->
<g id="p587" class="n" style="stroke-width:2.6">
<path class="p" style="stroke-width:2.5" d="M293.5,161 L279,197 L304,216.5 L342,221.5 L346.5,204 Z"/>
<path d="M293.5,161 L346.5,204" style="stroke-width:3.2"/>
<path d="M303.7,148.4L420.0,111.5"/>
<path d="M303.7,148.4L301.5,156.9L294.2,161.3"/>
<path d="M294.2,161.3L420.0,122.5" style="stroke-width:2.4"/>
<path d="M305.2,164.9L420.0,127.9" style="stroke-width:2"/>
<path d="M313.9,145.2L327.9,149.8M318.3,148.4L321.3,151.7M344.0,135.2L357.9,140.0M347.6,138.6L353.5,141.5M393.0,120.0L407.7,124.6M397.4,122.5L402.6,126.1" style="stroke-width:2"/>
<path class="b" d="M303.0,153.9L304.0,148.4L312.5,146.6L319.1,149.5L319.8,153.2L313.9,155.7L305.2,156.9Z"/>
<path class="b" d="M369.6,130.5L372.5,127.6L379.1,128.3L385.7,130.5L382.8,134.2L381.3,139.3L379.9,152.5L374.7,155.1L371.1,152.5L372.5,139.3L370.3,136.4Z"/>
<path class="p" style="stroke-width:2" d="M385.7,143.0L391.3,145.2L387.2,155.7L382.1,153.2Z"/>
<path d="M400.0,117.5L462.5,98.8"/>
<path d="M400.0,130.3L464.8,110.5L464.4,113.1" style="stroke-width:2.4"/>
<path d="M400.0,133.9L464.4,113.1" style="stroke-width:2"/>
<path d="M424.2,110.5L438.3,115.9M428.1,110.9L433.6,117.2M464.8,105.0L476.9,101.1" style="stroke-width:2"/>
<path class="b" d="M445.3,105.0L451.6,102.7L462.5,106.2L462.5,110.5L453.1,112.0L446.9,109.7Z"/>
<path class="p" style="stroke-width:2.2" d="M462.5,101.1L464.8,93.3Q468.0,89.4,471.1,92.2L468.8,103.4Z"/>
<path class="b" d="M476.2,100.6L481.2,96.4L487.5,95.2L496.9,97.7L501.9,103.4L503.8,109.4L512.5,113.6L515.6,112.0L517.2,115.2L546.1,141.7L543.0,148.8L541.4,158.1L535.6,160.9L534.4,153.4L536.2,144.8L534.4,144.4L477.8,103.4Z"/>
<path fill="#fff" stroke="none" d="M479.7,103.0L489.8,104.7L540.6,140.6L535.3,143.8Z"/>
<path fill="#fff" stroke="none" d="M536.7,146.9L541.4,144.4L539.8,155.0L536.2,157.3Z"/>
<path d="M536.2,147.2L540.6,155.8M540.6,145.6L536.6,156.6" style="stroke-width:1.2"/>
<path fill="#fff" stroke="none" d="M481.2,100.0L485.2,98.8L487.5,101.1L483.6,102.2Z"/>
<path class="b" d="M476.6,111.2L484.4,110.5L487.8,113.6L493.8,115.2L501.9,119.8L508.1,126.9L506.6,131.9L503.4,140.2L498.4,141.2L493.8,135.0L492.2,130.0L487.5,126.9L484.4,123.8L479.7,123.1L476.6,117.5Z"/>
<path stroke="#fff" stroke-width="1.8" fill="none" d="M480.3,116.7L480.9,121.9M497.2,130.3L498.1,138.1M489.8,116.7L492.5,119.1M497.7,122.5L501.2,125.3M487.5,120.9L489.4,125.6"/>
<path class="b" d="M508.6,140.2L520.3,136.2L530.0,143.3L527.3,149.1L517.2,149.8Z"/>
<path fill="#fff" stroke="none" d="M514.8,141.7L520.0,140.0L524.2,143.8L518.8,145.6Z"/>
<path class="b" d="M512.5,155.3L515.9,151.1L526.9,149.5L532.8,153.4L535.6,154.7L535.6,160.9L514.1,162.3Z"/>
<path fill="#fff" stroke="none" d="M516.9,155.9L525.0,154.7L525.8,156.6L517.5,158.1Z"/>
<path d="M535.9,145.6L509.4,153.4L502.3,155.3"/>
<path class="b" d="M485.2,151.1L496.9,147.2L502.7,152.7L491.4,157.7Z"/>
<path fill="#fff" stroke="none" d="M490.3,151.6L496.1,149.7L498.4,152.2L492.7,154.4Z"/>
<path class="b" d="M468.8,156.6L481.2,152.7L487.0,158.1L475.0,163.1Z"/>
<path fill="#fff" stroke="none" d="M473.9,157.2L480.0,155.2L482.3,157.7L476.6,159.8Z"/>
<path class="b" d="M453.9,161.2L465.6,157.3L471.4,162.8L460.2,167.8Z"/>
<path fill="#fff" stroke="none" d="M459.1,161.9L464.7,160.0L466.9,162.3L461.4,164.5Z"/>
<path class="b" d="M438.8,165.9L450.0,162.0L455.8,169.1L444.5,173.3Z"/>
<path fill="#fff" stroke="none" d="M443.8,166.7L449.1,164.8L451.2,167.8L446.2,169.8Z"/>
<path class="b" d="M460.2,165.2L469.5,163.6L485.2,167.5L485.6,173.8L478.9,180.0L468.8,180.3L462.5,173.8Z"/>
<path stroke="#fff" stroke-width="1.5" fill="none" d="M468.8,167.5L473.4,173.8L478.1,169.8M478.1,175.3L481.2,172.2"/>
<path class="b" d="M422.7,170.6L431.2,167.5L440.9,173.8L440.9,181.6L436.2,186.6L428.1,189.4L420.3,188.1L418.8,183.1L423.8,180.0Z"/>
<path fill="#fff" stroke="none" d="M429.7,173.8L436.7,175.6L435.2,178.1L428.9,176.6ZM425.8,182.3L434.7,180.0L435.2,182.3L426.6,185.0Z"/>
<ellipse class="b" cx="428.3" cy="163" rx="4" ry="3"/>
<path class="p" style="stroke-width:2.2" d="M445.3,176.9L452.7,188.9L466.9,184.4L459.7,172.5"/>
<path class="p" style="stroke-width:2.2" d="M471.1,181.6Q471.1,188.6,475.5,188.9Q478.9,188.1,480.5,180.8"/>
<path style="stroke-width:1.8" d="M492.5,168.3L492.2,178.4L496.6,177.2L500.0,166.7"/>
<path class="p" style="stroke-width:2.2" d="M418.8,183.1L423.8,194.8L428.9,192.5L428.4,189.4"/>
<path d="M481.2,178.0L541.9,158.9M428.9,192.8L452.3,187.8M467.2,183.9L471.6,182.3"/>
<path class="b" d="M396.6,175.6L400.3,164.6L406.9,164.4L409.8,158.5L413.1,160.3L409.8,169.0L405.4,170.5L403.2,178.1Z"/>
<path stroke="#fff" stroke-width="1.4" fill="none" d="M400.6,174.2L402.9,167.3"/>
<path d="M334.4,190.3L401.8,186.6L412.0,193.9L412.8,201.6"/>
<path d="M338.8,195.7L378.3,193.2" style="stroke-width:1.7"/>
<path d="M346.8,202.3L385.7,192.8L401.8,186.6"/>
<path class="p" style="stroke-width:2.2" d="M400.0,193.9L403.2,190.3L411.3,193.9L412.8,202.0L407.6,199.1Z"/>
<path d="M412.8,201.6L426.7,198.0L427.0,193.9"/>
<path d="M356.4,205.7L354.9,229.4L376.9,222.5L385.7,206.4L409.1,199.4"/>
<path d="M350.5,220.6L355.6,208.6M346.8,202.7L341.7,221.8L330.0,220.0"/>
<path class="b" d="M356.4,202.7L361.5,199.5L372.5,199.5L372.2,205.4L364.4,208.6L357.1,208.6Z"/>
<ellipse class="b" cx="354.9" cy="174.6" rx="6.6" ry="4.8" transform="rotate(14 354.9 174.6)"/>
<ellipse cx="355.3" cy="173.4" rx="3.6" ry="1.9" fill="#fff" stroke="none" transform="rotate(14 355.3 173.4)"/>
<ellipse class="b" cx="369.5" cy="185.7" rx="4" ry="2.4"/>
</g>

<!-- ===== part 6A pressure switch ===== -->
<g id="p6a" class="n" style="stroke-width:1.8">
<path class="p" d="M167.4,216.3L178.0,212.3L186.8,215.9L181.5,218.9L180.2,230.4L166.5,229.0Z"/>
<path d="M167.4,216.3L174.9,218.9L181.5,218.9M174.9,218.9L175.8,215.9L185.4,217.2M174.9,218.9L174.5,229.5"/>
<path class="p" d="M164.3,229.0L164.3,235.2L170.9,238.1L178.0,240.2L178.9,233.4L171.4,231.1Z"/>
<path d="M171.4,231.1L171.1,238.1M164.3,229.0L166.5,228.6M173.6,229.9L179.3,232.1"/>
<path class="p" d="M177.1,239.2L176.4,251.5C178.9,256.7,187.6,262.0,199.9,262.4C212.2,262.4,221.0,258.5,224.1,255.0L226.3,239.2Z"/>
<path d="M185.9,260.2C189.4,265.5,205.2,267.3,213.1,263.1M188.1,262.2C192.9,264.6,203.5,265.5,209.6,264.1" style="stroke-width:1.8"/>
<path class="p" d="M195.1,266.0L195.1,276.9Q197.5,279.1,200.1,276.9L201.7,266.2"/>
<path class="p" d="M180.2,223.8L180.8,239.2L212.2,240.9L226.3,233.0L226.8,227.0Z"/>
<ellipse class="p" cx="203.5" cy="225.1" rx="23.3" ry="9" transform="rotate(6 203.5 225.1)"/>
<path class="p" d="M182.4,234.8L185.0,233.9L192.0,237.8L191.6,245.3L188.5,248.4L181.9,245.3Z"/>
<path d="M185.0,233.9L184.3,246.2M187.2,237.0L186.8,247.5M189.8,237.8L189.2,247.1" style="stroke-width:1.4"/>
<path class="b" d="M191.2,245.3L192.0,243.6L202.6,245.1L212.2,238.7L212.7,241.8L201.7,251.0L190.7,247.9Z"/>
<path fill="#fff" stroke="none" d="M192.7,244.6L202.4,246.2L211.2,240.5L211.4,241.4L202.1,247.9L192.2,246.0Z"/>
<path d="M177.1,240.9L182.4,245.3M178.4,237.8L181.9,239.2" style="stroke-width:1.4"/>
<path class="p" d="M213.1,236.3L210.9,257.6L214.9,258.7L217.1,235.8Z"/>
<path class="p" d="M217.5,234.3L228.1,232.1L228.9,237.8L233.5,240.0L233.3,247.5L227.4,249.0L220.2,247.1L219.3,239.2Z"/>
<path d="M219.3,239.2L226.3,237.8L228.9,237.8M227.4,249.0L227.6,241.8L233.3,240.0M223.7,239.2L223.9,247.9"/>
<path class="p" d="M222.8,248.6L222.4,255.2L225.4,255.7L226.3,249.3"/>
</g>

<!-- ===== part 7 valve ===== -->
<g id="p7" class="n" style="stroke-width:2">
<ellipse class="b" cx="330.3" cy="452.5" rx="11.8" ry="15.2" transform="rotate(18 330.3 452.5)"/>
<path stroke="#fff" stroke-width="0.85" fill="none" stroke-dasharray="2.4 1.4" d="M322.2,448.0C324.9,441.6,330.3,440.5,335.1,441.0M321.1,453.4C324.4,445.9,330.8,443.7,337.8,444.2M321.7,458.8C324.9,450.7,331.9,447.5,339.4,448.0M323.8,463.0C326.5,455.5,333.5,451.2,340.5,452.3M327.0,465.7C329.2,459.8,335.1,455.5,341.0,456.6M320.1,450.2C322.7,443.7,327.0,440.0,332.4,438.9M325.4,465.2C327.0,458.8,333.5,453.4,340.8,454.5M322.7,461.4C325.4,453.4,332.4,449.3,340.1,450.2M321.5,456.1C324.4,448.5,331.3,445.3,338.9,446.1M321.7,450.7C324.4,443.7,330.3,442.1,336.5,442.6"/>
<path class="p" style="stroke-width:2" d="M342.6,450.2L333.5,465.2L332.4,469.0L338.9,476.5L337.8,485.6L346.4,488.0L348.0,472.7L344.2,463.0Z"/>
<path d="M338.9,476.5L341.5,465.2M341.5,465.2L347.4,472.7"/>
<path class="p" style="stroke-width:2.2" d="M365.7,407.2L375.4,402.4L401.2,413.1L397.9,444.2L389.3,446.4L380.8,448.0L366.2,443.7Z"/>
<path d="M366.2,407.7L391.5,417.1L401.2,413.1M391.5,417.1L389.3,446.4" style="stroke-width:2.2"/>
<ellipse cx="385.6" cy="409.6" rx="4.2" ry="1.8" style="stroke-width:1.5" transform="rotate(15 385.6 409.6)"/>
<path class="p" style="stroke-width:1.8" d="M386.1,401.8L397.9,397.3L413.0,402.7L411.4,410.9L404.4,415.2L401.2,413.1L387.2,406.1Z"/>
<path d="M387.2,406.1L398.5,401.8L413.0,402.7M398.5,401.8L397.9,397.3M391.0,405.0L402.2,409.1L411.4,405.0M402.2,409.1L403.3,414.7M394.7,399.7L396.9,403.4M401.2,398.8L403.3,401.3L407.6,400.2M404.4,402.9L408.7,404.5" style="stroke-width:1.5"/>
<path class="b" d="M402.2,409.3L411.4,406.1L410.8,410.9L404.2,414.9Z"/>
<path class="p" style="stroke-width:2" d="M380.8,448.0L389.3,446.1L397.9,443.9L396.3,464.1L388.8,465.2L379.1,463.0Z"/>
<path d="M391.3,446.4L389.3,464.1M380.8,450.2L389.3,448.9M379.9,460.4L388.8,459.6"/>
<path class="b" d="M379.1,463.0L388.8,464.1L388.3,474.9L380.8,472.7Z"/>
<path fill="#fff" stroke="none" d="M381.8,465.2L386.1,465.7L385.9,471.6L382.0,470.8Z"/>
<path class="p" style="stroke-width:1.6" d="M392.0,465.0 L409.2,468.8 L409.2,484.7 L392.0,480.9 Z"/>
<path d="M392.0,465.0 A4.8,7.9 0 0 1 392.0,480.9" style="stroke-width:1.0;stroke:#222"/>
<path d="M393.9,465.4 A4.8,7.9 0 0 1 393.9,481.3" style="stroke-width:1.0;stroke:#222"/>
<path d="M395.9,465.8 A4.8,7.9 0 0 1 395.9,481.7" style="stroke-width:1.0;stroke:#222"/>
<path d="M397.8,466.3 A4.8,7.9 0 0 1 397.8,482.2" style="stroke-width:1.0;stroke:#222"/>
<path d="M399.7,466.7 A4.8,7.9 0 0 1 399.7,482.6" style="stroke-width:1.0;stroke:#222"/>
<path d="M401.6,467.1 A4.8,7.9 0 0 1 401.6,483.0" style="stroke-width:1.0;stroke:#222"/>
<path d="M403.5,467.6 A4.8,7.9 0 0 1 403.5,483.5" style="stroke-width:1.0;stroke:#222"/>
<path d="M405.4,468.0 A4.8,7.9 0 0 1 405.4,483.9" style="stroke-width:1.0;stroke:#222"/>
<ellipse class="p" cx="409.2" cy="476.8" rx="4.8" ry="7.9" style="stroke-width:1.6"/>
<path d="M406.3,468.2 A4.8,7.9 0 0 0 406.3,484.1" style="stroke-width:1.6"/>
<path class="p" style="stroke-width:1.6" d="M372.7,474.6 L389.9,479.4 L389.9,492.3 L372.7,487.5 Z"/>
<path d="M372.7,474.6 A4.1,6.4 0 0 1 372.7,487.5" style="stroke-width:1.0;stroke:#222"/>
<path d="M374.6,475.2 A4.1,6.4 0 0 1 374.6,488.1" style="stroke-width:1.0;stroke:#222"/>
<path d="M376.5,475.7 A4.1,6.4 0 0 1 376.5,488.6" style="stroke-width:1.0;stroke:#222"/>
<path d="M378.4,476.2 A4.1,6.4 0 0 1 378.4,489.1" style="stroke-width:1.0;stroke:#222"/>
<path d="M380.4,476.8 A4.1,6.4 0 0 1 380.4,489.6" style="stroke-width:1.0;stroke:#222"/>
<path d="M382.3,477.3 A4.1,6.4 0 0 1 382.3,490.2" style="stroke-width:1.0;stroke:#222"/>
<path d="M384.2,477.8 A4.1,6.4 0 0 1 384.2,490.7" style="stroke-width:1.0;stroke:#222"/>
<path d="M386.1,478.3 A4.1,6.4 0 0 1 386.1,491.2" style="stroke-width:1.0;stroke:#222"/>
<ellipse class="p" cx="389.9" cy="485.8" rx="4.1" ry="6.4" style="stroke-width:1.6"/>
<path d="M387.0,478.6 A4.1,6.4 0 0 0 387.0,491.5" style="stroke-width:1.6"/>
<path class="p" style="stroke-width:2.2" d="M343.2,451.8L341.0,463.6C346.4,468.4,360.3,471.6,372.2,468.2L374.8,454.5Z"/>
<path d="M343.2,451.8C349.6,457.1,365.7,458.8,378.6,453.4M372.2,468.2L371.6,458.8" style="stroke-width:2.2"/>
<path class="p" style="stroke-width:2" d="M347.4,469.0L354.4,480.2L362.5,481.5L370.5,471.6L370.0,469.0C361.4,471.1,353.9,470.6,347.4,469.0Z"/>
<path d="M350.7,472.7C357.1,474.9,363.6,474.3,367.9,472.7" style="stroke-width:1.1"/>
<path d="M370.5,471.6L370.0,481.3L372.2,484.5M374.8,454.5L378.6,453.4L377.5,475.9" style="stroke-width:2"/>
<path class="p" style="stroke-width:2.4" d="M348.0,414.7L376.5,415.2L381.8,421.2L377.7,450.7C367.9,455.0,357.1,453.4,349.1,448.9L344.2,447.5Z"/>
<path d="M348.0,414.7L352.8,421.9L381.8,421.2M352.8,421.9L349.6,448.9" style="stroke-width:2.4"/>
<ellipse cx="366.2" cy="417.9" rx="4" ry="1.6" style="stroke-width:1.5"/>
<path class="b" d="M355.5,424.4L362.5,422.8L380.8,422.2L381.8,426.5L380.8,437.3L376.5,440.5L367.9,441.6L363.6,438.3L362.5,430.8L358.2,429.7Z"/>
<path fill="#fff" stroke="none" d="M358.2,425.4L362.5,424.6L363.3,428.7L359.3,428.9ZM365.7,424.6L378.6,424.2L378.8,427.1L365.9,427.6ZM367.9,430.3L370.5,430.0L370.9,432.4L368.1,432.8ZM372.7,430.0L375.4,429.7L375.6,432.1L372.9,432.4ZM367.9,435.1L374.3,434.6L374.8,437.8L368.4,438.3ZM377.0,428.7L379.7,428.7L379.5,435.1L377.1,435.7Z"/>
<path d="M355.0,425.4C353.4,430.8,355.0,435.1,362.5,438.3M377.7,440.5L376.5,450.2" style="stroke-width:1.5"/>
</g>

<!-- ===== part 7A clip ===== -->
<g id="p7a" class="n" style="stroke-width:1.9">
<path class="p" style="stroke-width:1.9" d="M373.4,323.6C382.8,324.3,387.8,326.7,387.8,332.2L387.4,341.5C387.4,347.0,386.7,352.0,383.5,352.8C380.4,352.9,379.3,350.1,379.9,345.4L380.4,337.6L373.4,334.5Z"/>
<path class="p" style="stroke-width:1.9" d="M292.1,338.4L294.5,336.4C301.5,334.5,310.9,335.3,314.0,332.6C316.3,330.6,311.7,329.0,316.3,327.8C321.8,326.7,329.6,327.5,333.5,325.9C336.7,324.3,332.8,321.7,335.1,319.3C336.7,317.3,342.1,317.3,349.2,317.6C360.9,318.1,373.4,320.8,380.4,324.3L380.4,327.0C376.5,325.9,371.8,325.9,368.7,327.0C364.0,329.0,364.8,332.6,367.9,333.7C371.8,334.8,374.2,335.3,375.7,336.4L364.0,342.3L358.5,345.4C356.2,343.1,351.5,340.8,346.8,340.0C342.1,339.5,339.0,340.8,340.9,342.6C342.9,344.2,346.8,344.7,349.2,346.7L332.0,345.4L309.3,345.4Z"/>
<path class="p" style="stroke-width:1.9" d="M358.5,345.4L358.5,353.9L364.0,354.2L373.4,339.5L375.7,336.4L364.0,342.3Z"/>
<path d="M380.4,327.0L379.9,345.4"/>
<path d="M377.3,328.6L376.8,340.8M384.3,330.6L384.0,345.4" style="stroke-width:1"/>
<path class="p" style="stroke-width:1.9" d="M292.1,338.4L289.0,358.7L307.0,364.2L328.8,364.2L334.3,362.9L345.2,353.2L349.2,347.0L332.0,345.4L309.3,345.4Z"/>
<path d="M309.3,345.4L307.0,364.2M332.0,345.4L328.8,364.2"/>
<path d="M314.8,346.7L313.2,361.8" style="stroke-width:1"/>
<path d="M340.6,340.8C342.1,339.2,349.2,339.5,351.5,343.1M349.2,346.7L350.2,348.9" style="stroke-width:2.4"/>
<path class="p" style="stroke-width:1.9" d="M314.3,365.0L316.3,371.2L323.1,372.8L322.1,365.0"/>
<path d="M329.3,364.5L332.8,367.6L334.0,363.4"/>
</g>



<!-- ===== labels ===== -->
<g id="labels" style="filter:grayscale(1)">
<text class="lb" x="491.200" y="54.300" style="font-size:26.6px">30</text>
<text class="lr" x="590.200" y="145.300">587</text>
<text class="lb" x="623.500" y="234">25</text>
<text class="lb" x="188.500" y="182.500">6A</text>
<text class="lb" x="402.500" y="306.400">7A</text>
<text class="lb" x="442" y="437.900">7</text>
<text class="lb" x="260.500" y="498.400">37</text>
<text class="lb" x="551.500" y="495.800">19</text>
<text class="lb" x="793" y="393">12</text>
<text class="lb" x="780.500" y="475.600">21</text>
<text class="lb" x="810" y="602.300">26</text>
<text class="lb" x="582.500" y="594.400">15</text>
<text class="lb" x="211" y="664.400">14</text>
<text class="lb" x="830" y="709">13</text>
<text class="lb" x="800.500" y="895">10</text>
<text class="lb" x="456.500" y="962.700">16</text>
<text class="ft" x="735" y="985.800">P09133005925</text>
<text class="ft" x="741.500" y="1017" style="font-size:13.7px">© Electrolux</text>
</g>
<circle cx="180.700" cy="715.600" r="0.900" fill="#333"/>
</svg>
</body>
</html>
